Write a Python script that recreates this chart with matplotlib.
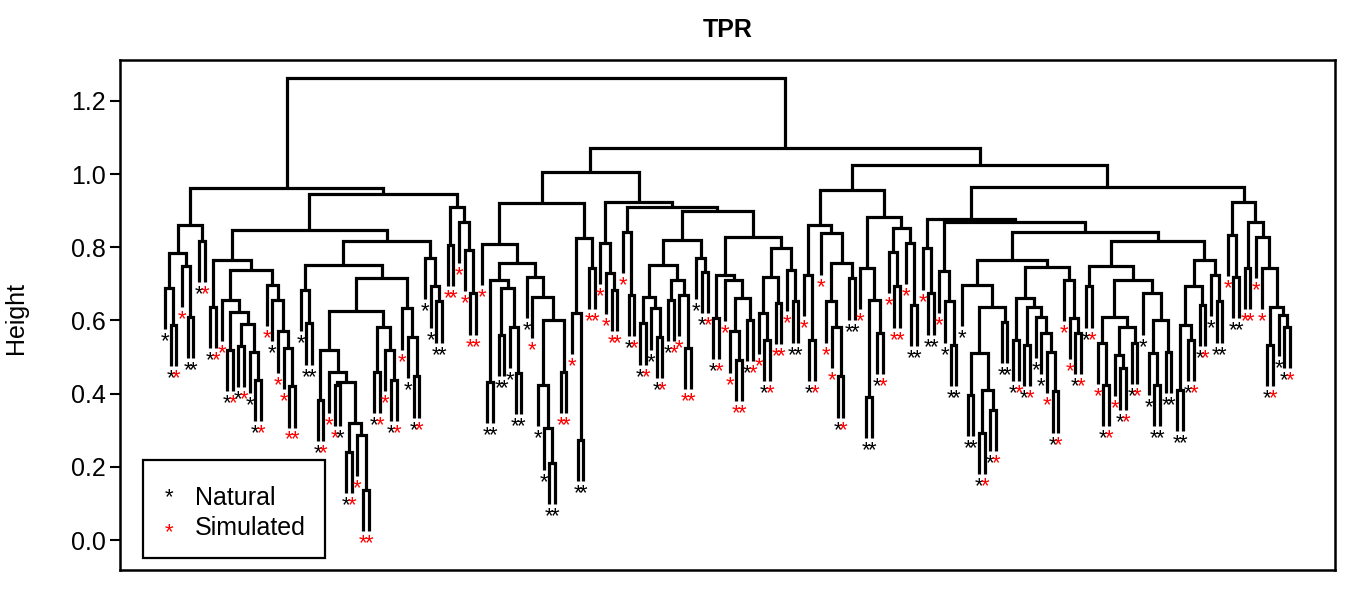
import matplotlib
matplotlib.use("Agg")
import matplotlib.pyplot as plt
from matplotlib.patches import Rectangle

plt.rcParams['font.family'] = ['Liberation Sans', 'DejaVu Sans']

# leaves: n = Natural, s = Simulated; number after ")" = merge height
left_a = "(((n,(n,s)0.588)0.688,(s,(n,n)0.61)0.749)0.784,(n,s)0.817)0.861"
left_b = ("((n,s)0.638,((s,((n,s)0.519,((n,s)0.53,(n,(n,s)0.437)0.515)0.59)0.624)0.656,"
          "(s,(n,(s,(s,(s,s)0.42)0.524)0.57)0.656)0.697)0.738)0.765")
left_r = "(n,(n,n)0.592)0.683"
left_w = "((n,s)0.383,(s,((s,n)0.425,((n,s)0.241,(s,(s,s)0.137)0.287)0.319)0.433)0.46)0.519"
left_x = "((n,s)0.46,(s,(n,s)0.437)0.519)0.583"
left_v = "(s,(n,(n,s)0.447)0.556)0.633"
left_s = "(n,(n,(n,n)0.652)0.693)0.77"
left_p = "((s,s)0.806,(s,(s,(s,s)0.674)0.793)0.87)0.91"

mid_d = ("((s,(((n,n)0.433,((n,n)0.56,(n,(n,n)0.456)0.583)0.688)0.711,"
         "(n,(s,((n,(n,(n,n)0.21)0.305)0.424,(s,s)0.46)0.601)0.665)0.72)0.757)0.81,"
         "((s,(n,n)0.273)0.62,(s,s)0.743)0.825)0.92")
mid_e = "(s,(s,(s,s)0.683)0.729)0.811"
mid_f = "(s,(n,s)0.67)0.843"
mid_g1 = ("((((n,s)0.592,(n,(n,s)0.556)0.633)0.665,((n,s)0.656,(s,(s,s)0.524)0.67)0.711)0.752,"
          "(n,(n,s)0.733)0.77)0.82")
mid_g2 = ("(((n,s)0.606,(s,((s,(s,s)0.492)0.57,(n,s)0.601)0.661)0.711)0.724,"
          "(((s,(n,s)0.547)0.62,(s,s)0.647)0.72,(s,(n,n)0.652)0.738)0.797)0.829")

right_c1 = "((s,(n,s)0.547)0.724,(s,((s,(s,(n,s)0.447)0.583)0.652,(n,n)0.715)0.757)0.838)0.861"
right_c2 = "((s,((n,n)0.392,(n,s)0.565)0.656)0.743,((s,(s,s)0.693)0.788,(s,(n,n)0.643)0.811)0.852)0.884"
right_ha = "(s,(n,n)0.674)0.797"
right_hb = "(s,(n,(n,n)0.533)0.652)0.734"
right_h4 = ("((n,(((n,n)0.396,((n,s)0.292,(n,s)0.355)0.41)0.51,(n,n)0.597)0.638)0.697,"
            "(((n,s)0.547,((n,s)0.533,(n,(n,(s,(n,s)0.406)0.515)0.565)0.61)0.638)0.661,"
            "(s,(s,(n,s)0.565)0.606)0.711)0.747)0.765")
right_h5 = ("(((n,s)0.693,(((s,(n,s)0.424)0.538,((s,(n,s)0.469)0.506,(n,s)0.538)0.583)0.61,"
            "(n,((n,(n,n)0.424)0.51,(n,n)0.515)0.601)0.674)0.711)0.749,"
            "((((n,n)0.41,(n,s)0.547)0.588,(n,s)0.643)0.693,(n,(n,n)0.652)0.724)0.765)0.816")
right_k = ("((s,(n,n)0.72)0.834,((s,s)0.743,(s,(s,((n,s)0.533,(n,(n,s)0.583)0.615)0.638)0.743)"
           "0.829)0.87)0.925")

top_heights = {"L": 0.962, "M": 0.945, "N": 0.847, "Q": 0.816, "R": 0.752, "T": 0.715, "U": 0.627,
               "G": 0.898, "F": 0.91, "E": 0.924, "D1": 1.006,
               "C": 0.957, "H3": 0.843, "H2": 0.868, "H": 0.877, "K1": 0.966, "R1": 1.025,
               "RR": 1.072, "root": 1.263}
th = top_heights

left_tree = (f"({left_a},(({left_b},(({left_r},(({left_w},{left_x}){th['U']},{left_v}){th['T']}){th['R']},"
             f"{left_s}){th['Q']}){th['N']},{left_p}){th['M']}){th['L']}")
mid_tree = (f"({mid_d},({mid_e},({mid_f},({mid_g1},{mid_g2}){th['G']}){th['F']}){th['E']}){th['D1']}")
right_tree = (f"(({right_c1},{right_c2}){th['C']},(({right_ha},({right_hb},({right_h4},{right_h5}){th['H3']})"
              f"{th['H2']}){th['H']},{right_k}){th['K1']}){th['R1']}")
tree_str = f"({left_tree},({mid_tree},{right_tree}){th['RR']}){th['root']}"


def parse(s, i=0):
    if s[i] in "ns":
        return s[i], i + 1
    left, i = parse(s, i + 1)
    right, i = parse(s, i + 1)
    j = i + 1
    while j < len(s) and (s[j].isdigit() or s[j] == "."):
        j += 1
    return (float(s[i + 1:j]), left, right), j


def all_heights(node):
    if isinstance(node, str):
        return []
    return [node[0]] + all_heights(node[1]) + all_heights(node[2])


tree, _ = parse(tree_str)
hs = all_heights(tree)
hang = 0.1 * (max(hs) - min(hs))

fig = plt.figure(figsize=(13.5, 6), dpi=100)
ax = fig.add_axes([120 / 1350, 30 / 600, 1215 / 1350, 510 / 600])

leaves = []


def draw(node):
    if isinstance(node, str):
        leaves.append(node)
        return len(leaves), None
    h, l, r = node
    xl, hl = draw(l)
    xr, hr = draw(r)
    bl = h - hang if hl is None else hl
    br = h - hang if hr is None else hr
    ax.plot([xl, xl, xr, xr], [bl, h, h, br], color="black", lw=2.3,
            solid_joinstyle="miter", solid_capstyle="butt")
    if hl is None:
        ax.annotate("*", (xl, bl), xytext=(0, -1.5), textcoords="offset points", ha="center", va="top",
                    fontsize=16, color="black" if l == "n" else "red")
    if hr is None:
        ax.annotate("*", (xr, br), xytext=(0, -1.5), textcoords="offset points", ha="center", va="top",
                    fontsize=16, color="black" if r == "n" else "red")
    return (xl + xr) / 2, h


draw(tree)
n = len(leaves)
pad = 0.04 * (n - 1)
ax.set_xlim(1 - pad, n + pad)
ax.set_ylim(-0.082, 1.312)
ax.set_xticks([])
ax.set_yticks([0.0, 0.2, 0.4, 0.6, 0.8, 1.0, 1.2])
ax.set_yticklabels(["0.0", "0.2", "0.4", "0.6", "0.8", "1.0", "1.2"])
ax.tick_params(axis="y", length=7, width=1.5, labelsize=18, pad=3)
for sp in ax.spines.values():
    sp.set_linewidth(1.8)

# legend box
ax.add_patch(Rectangle((0.0189, 0.024), 0.1498, 0.192, transform=ax.transAxes, fill=False, lw=1.6))
ax.text(0.0403, 0.141, "*", transform=ax.transAxes, ha="center", va="center", fontsize=16, color="black")
ax.text(0.0403, 0.074, "*", transform=ax.transAxes, ha="center", va="center", fontsize=16, color="red")
ax.text(0.0617, 0.141, "Natural", transform=ax.transAxes, ha="left", va="center", fontsize=18)
ax.text(0.0617, 0.082, "Simulated", transform=ax.transAxes, ha="left", va="center", fontsize=18)

fig.text(0.539, 0.95, "TPR", ha="center", va="center", fontsize=18, fontweight="bold")
fig.text(0.012, 0.47, "Height", ha="center", va="center", fontsize=18, rotation=90)

fig.savefig("out.png", dpi=100)
